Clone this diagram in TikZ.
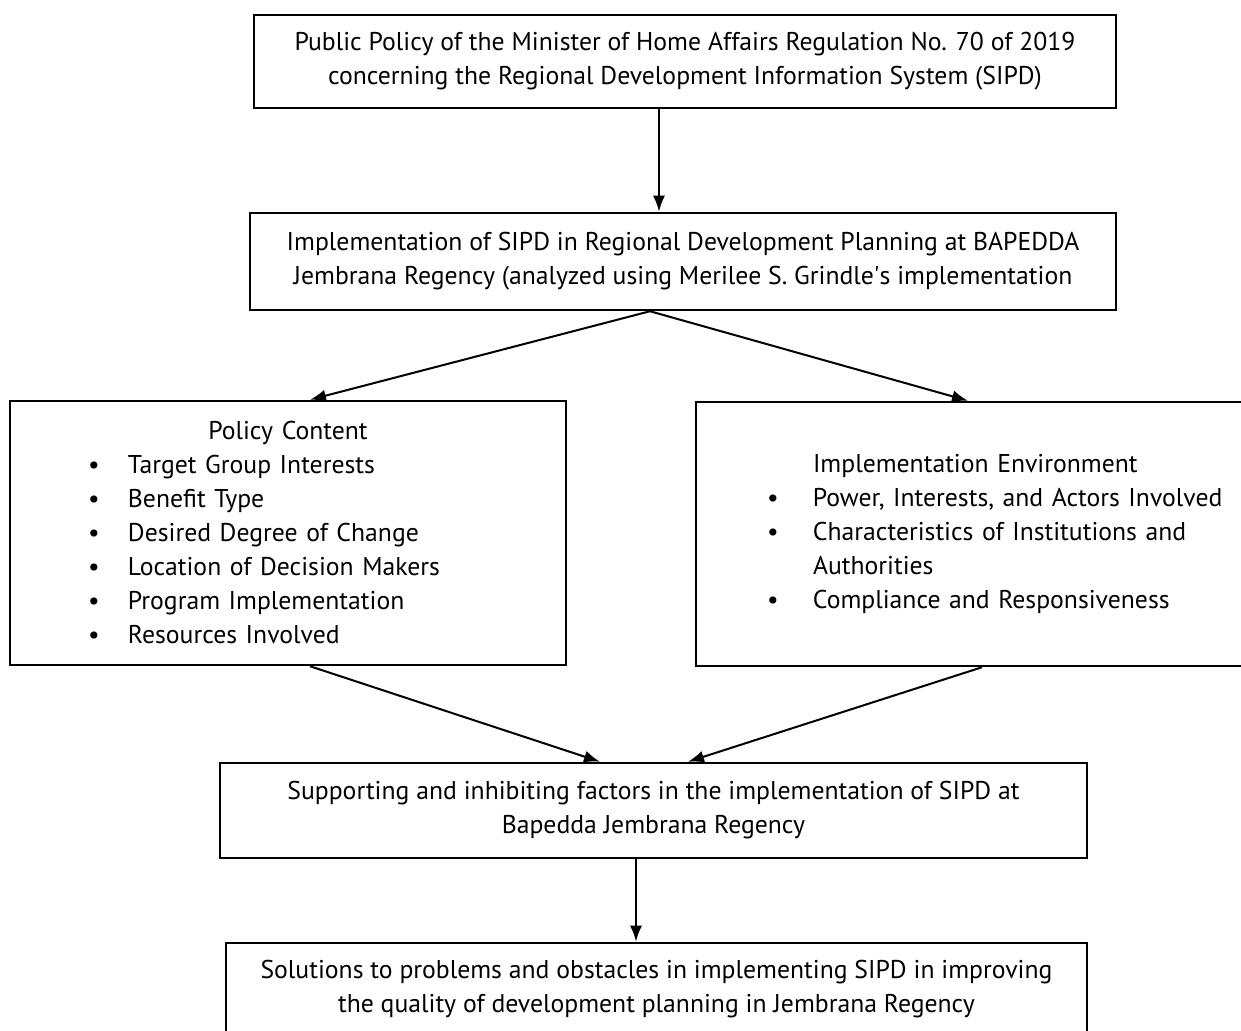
\documentclass[tikz,border=0pt]{standalone}
\usepackage{fontspec}
\setmainfont{PT Sans}
\usetikzlibrary{arrows.meta}
\tikzstyle{line} = [draw, line width=2pt, -{Latex[length=16pt,width=12pt]}]
\tikzstyle{box} = [rectangle, draw, line width=2.5pt, align=center, inner sep=0pt, node distance=200pt, font=\fontsize{25.7}{34}\selectfont]
\tikzstyle{listbox} = [box, align=left, minimum height=264pt]
\newcommand{\pcitem}{\hspace*{78pt}\makebox[40pt][l]{\textbullet}}
\newcommand{\envitem}{\hspace*{71pt}\makebox[46pt][l]{\textbullet}}
\begin{document}
\begin{tikzpicture}[x=1pt, y=1pt]
\useasboundingbox (0,0) rectangle (1241,1030);
\clip (0,0) rectangle (1241,1030);

\node [box, minimum width=862pt, minimum height=93pt] (policy) at (685,968.5) {Public Policy of the Minister of Home Affairs Regulation No. 70 of 2019\\concerning the Regional Development Information System (SIPD)};
\node [box, below of=policy, xshift=-2pt, minimum width=866pt, minimum height=97pt] (impl) {Implementation of SIPD in Regional Development Planning at BAPEDDA\\Jembrana Regency (analyzed using Merilee S. Grindle\textquotesingle s implementation};
\path [line] ([xshift=-26pt]policy.south) to ([xshift=-24pt]impl.north);

% policy content and implementation environment
\node [listbox, below of=impl, node distance=271.5pt, xshift=-395pt, text width=556pt] (content) {\makebox[\linewidth]{Policy Content}\\
\pcitem Target Group Interests\\
\pcitem Benefit Type\\
\pcitem Desired Degree of Change\\
\pcitem Location of Decision Makers\\
\pcitem Program Implementation\\
\pcitem Resources Involved};
\node [listbox, below of=impl, node distance=272.5pt, xshift=315pt, text width=604pt] (env) {\hspace*{117pt}Implementation Environment\\
\envitem Power, Interests, and Actors Involved\\
\envitem Characteristics of Institutions and\\
\hspace*{117pt}Authorities\\
\envitem Compliance and Responsiveness};
\path [line] ([xshift=-33pt]impl.south) to ([xshift=22pt]content.north);
\path [line] ([xshift=-33pt]impl.south) to ([xshift=-30pt]env.north);

\node [box, below of=impl, node distance=549pt, xshift=-29.5pt, minimum width=867pt, minimum height=95pt] (factors) {Supporting and inhibiting factors in the implementation of SIPD at\\Bapedda Jembrana Regency};
\path [line] ([xshift=22pt]content.south) to ([xshift=-53.5pt]factors.north);
\path [line] ([xshift=-16pt]env.south) to ([xshift=34.5pt]factors.north);

\node [box, below of=factors, node distance=178.5pt, xshift=3pt, minimum width=861pt, minimum height=92pt] (solution) {Solutions to problems and obstacles in implementing SIPD in improving\\the quality of development planning in Jembrana Regency};
\path [line] ([xshift=-17.5pt]factors.south) to ([xshift=-20.5pt]solution.north);

\end{tikzpicture}
\end{document}
